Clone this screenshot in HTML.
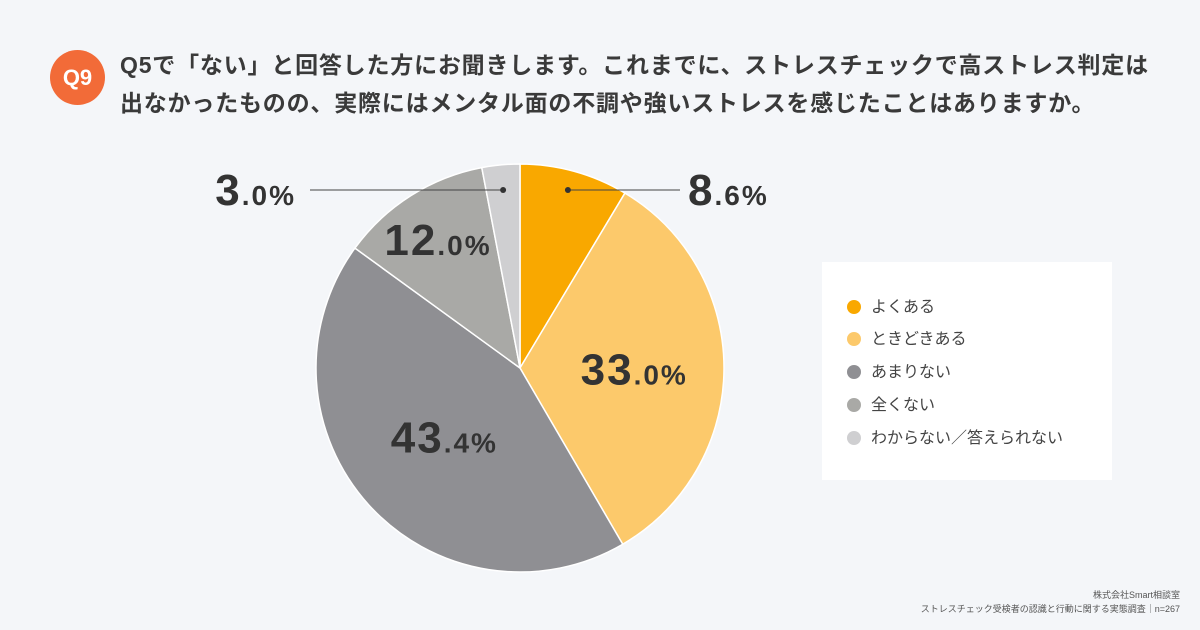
<!DOCTYPE html>
<html><head><meta charset="utf-8"><style>
body{margin:0;width:1200px;height:630px;background:#f4f6f9;font-family:"Liberation Sans","Noto Sans CJK JP",sans-serif;overflow:hidden;position:relative;color:#333}
.t{position:absolute;left:120px;font-size:23px;font-weight:bold;color:#3a3a3a;white-space:nowrap;letter-spacing:0.8px}
.badge{position:absolute;left:50px;top:50px;width:55px;height:55px;border-radius:50%;background:#f26b38;color:#fff;font-weight:bold;font-size:22px;text-align:center;line-height:55px}
.legend{position:absolute;left:822px;top:262px;width:290px;height:218px;background:#fff}
.li{position:absolute;left:25px;font-size:16px;color:#444;white-space:nowrap}
.li i{display:inline-block;width:14px;height:14px;border-radius:50%;vertical-align:-2px;margin-right:10px}
.foot{position:absolute;right:20px;font-size:9px;color:#555;text-align:right}
</style></head><body>
<div class="badge">Q9</div>
<div class="t" style="top:46px">Q5で「ない」と回答した方にお聞きします。これまでに、ストレスチェックで高ストレス判定は</div>
<div class="t" style="top:84px">出なかったものの、実際にはメンタル面の不調や強いストレスを感じたことはありますか。</div>
<svg id="chart" width="1200" height="630" style="position:absolute;left:0;top:0"></svg>
<div class="legend">
<div class="li" style="top:31px"><i style="background:#f9a800"></i>よくある</div>
<div class="li" style="top:63px"><i style="background:#fcc96b"></i>ときどきある</div>
<div class="li" style="top:96px"><i style="background:#8f8f93"></i>あまりない</div>
<div class="li" style="top:129px"><i style="background:#a9a9a6"></i>全くない</div>
<div class="li" style="top:162px"><i style="background:#cfcfd1"></i>わからない／答えられない</div>
</div>
<div class="foot" style="top:588px">株式会社Smart相談室</div>
<div class="foot" style="top:602px">ストレスチェック受検者の認識と行動に関する実態調査｜n=267</div>
<script>
const categories=["よくある","ときどきある","あまりない","全くない","わからない／答えられない"];
const values=[8.6,33.0,43.4,12.0,3.0];
const labels=["8.6","33.0","43.4","12.0","3.0"];
const colors=["#f9a800","#fcc96b","#8f8f93","#a9a9a6","#cfcfd1"];
const labelRadius=[0.88,0.56,0.5,0.75,0.88];
const svg=document.getElementById('chart');const NS="http://www.w3.org/2000/svg";
const cx=520,cy=368,r=204;
const total=values.reduce((a,b)=>a+b,0);
function pt(a,rr){return [cx+rr*Math.sin(a),cy-rr*Math.cos(a)];}
let acc=0;
values.forEach((v,i)=>{
 const a0=acc/total*2*Math.PI;acc+=v;const a1=acc/total*2*Math.PI;
 const p0=pt(a0,r),p1=pt(a1,r);
 const p=document.createElementNS(NS,'path');
 p.setAttribute('d',`M${cx},${cy}L${p0[0]},${p0[1]}A${r},${r} 0 ${a1-a0>Math.PI?1:0} 1 ${p1[0]},${p1[1]}Z`);
 p.setAttribute('fill',colors[i]);p.setAttribute('stroke','#fff');p.setAttribute('stroke-width','1.5');
 
 
 svg.appendChild(p);
 const am=(a0+a1)/2;
 let tx,ty,anchor='middle';
 if(v<10){
  const e=pt(am,r*labelRadius[i]);
  const dir=Math.sin(am)>=0?1:-1;
  const lx=dir>0?680:310;
  const ln=document.createElementNS(NS,'line');
  ln.setAttribute('x1',e[0]);ln.setAttribute('y1',190);ln.setAttribute('x2',lx);ln.setAttribute('y2',190);
  ln.setAttribute('stroke','#444');ln.setAttribute('stroke-width','1');
  
  
  svg.appendChild(ln);
  const d=document.createElementNS(NS,'circle');d.setAttribute('cx',e[0]);d.setAttribute('cy',190);d.setAttribute('r',3);d.setAttribute('fill','#333');
  
  
  svg.appendChild(d);
  tx=dir>0?lx+8:lx-14;ty=205;anchor=dir>0?'start':'end';
 }else{
  const c=pt(am,r*labelRadius[i]);tx=c[0];ty=c[1]+16;
 }
 const t=document.createElementNS(NS,'text');
 t.setAttribute('x',tx);t.setAttribute('y',ty);t.setAttribute('text-anchor',anchor);
 t.setAttribute('font-family','"Liberation Sans",sans-serif');t.setAttribute('font-weight','bold');t.setAttribute('fill','#333');
 t.setAttribute('letter-spacing','2');
 const parts=labels[i].split('.');
 const s1=document.createElementNS(NS,'tspan');s1.setAttribute('font-size','44');s1.textContent=parts[0];
 const s2=document.createElementNS(NS,'tspan');s2.setAttribute('font-size','28');s2.textContent='.'+parts[1]+'%';
 t.appendChild(s1);t.appendChild(s2);
 
 
 svg.appendChild(t);
});
</script>
</body></html>
